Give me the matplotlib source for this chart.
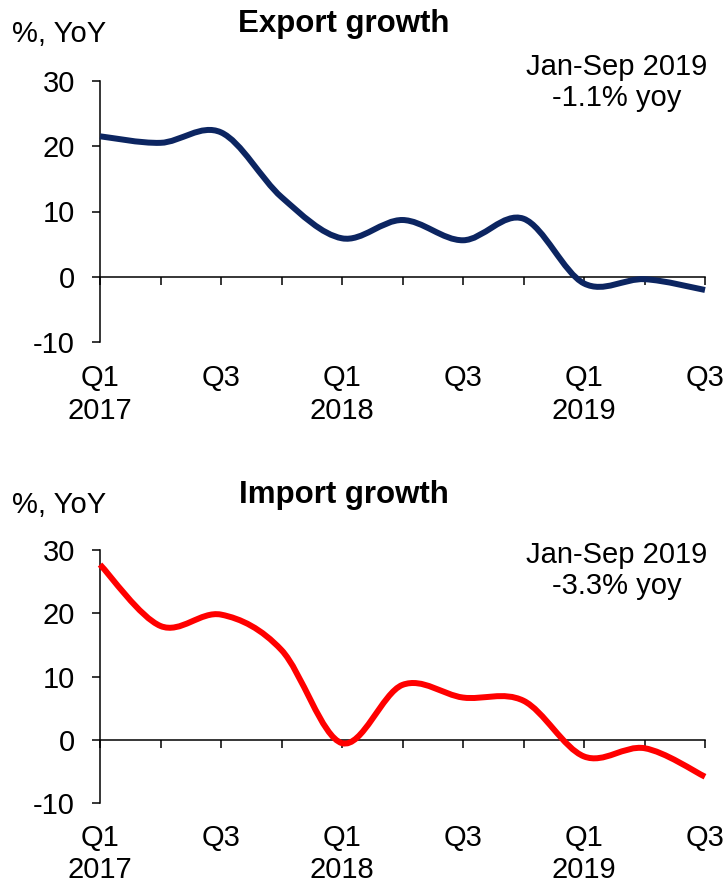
import numpy as np
import matplotlib.pyplot as plt
from matplotlib.path import Path
from matplotlib.patches import PathPatch

plt.rcParams['font.family'] = ['Liberation Sans', 'DejaVu Sans']
plt.rcParams['axes.unicode_minus'] = False

# quarterly y/y growth, Q1 2017 .. Q3 2019
quarter_labels = ["Q1\n2017", "", "Q3", "", "Q1\n2018", "", "Q3", "", "Q1\n2019", "", "Q3"]
export_growth = [21.5, 20.5, 22.1, 12.2, 5.9, 8.7, 5.6, 8.9, -1.0, -0.35, -2.0]
import_growth = [27.7, 18.0, 19.8, 14.2, -0.5, 8.7, 6.7, 6.2, -2.6, -1.3, -5.8]
y_ticks = [-10, 0, 10, 20, 30]

export_note = "Jan-Sep 2019\n-1.1% yoy"
import_note = "Jan-Sep 2019\n-3.3% yoy"

W, H = 728, 886


def smooth_path(x, y):
    # smoothed line like the spreadsheet one: cubic Bezier through each point
    pts = np.column_stack([x, y]).astype(float)
    padded = np.vstack([pts[0], pts, pts[-1]])
    verts = [pts[0]]
    codes = [Path.MOVETO]
    for i in range(len(pts) - 1):
        p0, p1, p2, p3 = padded[i], padded[i + 1], padded[i + 2], padded[i + 3]
        verts += [p1 + (p2 - p0) / 6, p2 - (p3 - p1) / 6, p2]
        codes += [Path.CURVE4] * 3
    return Path(verts, codes)


def panel(rect, values, color, title, title_base, unit_base, note, note_base,
          xpad):
    ax = fig.add_axes(rect)
    x = np.arange(len(values))
    ax.add_patch(PathPatch(smooth_path(x, values), fill=False, edgecolor=color,
                           lw=4.3, capstyle='butt', joinstyle='round',
                           clip_on=False, zorder=3))
    ax.set_xlim(0, len(values) - 1)
    ax.set_ylim(-10, 30)
    ax.set_yticks(y_ticks)
    ax.set_xticks(x)
    ax.set_xticklabels(quarter_labels, linespacing=1.12)
    for s in ['top', 'right']:
        ax.spines[s].set_visible(False)
    ax.spines['bottom'].set_position(('data', 0))
    for s in ['left', 'bottom']:
        ax.spines[s].set_linewidth(1.1)
    ax.tick_params(axis='y', direction='out', length=6, width=1.1,
                   labelsize=21, pad=12)
    ax.tick_params(axis='x', direction='out', length=6, width=1.1,
                   labelsize=21, pad=xpad)
    fig.text(344 / W, 1 - title_base / H, title, ha='center', va='baseline',
             fontsize=22.5, fontweight='bold')
    fig.text(12 / W, 1 - unit_base / H, "%, YoY", ha='left', va='baseline',
             fontsize=21)
    fig.text(617 / W, 1 - note_base / H, note, ha='center', va='baseline',
             fontsize=21, linespacing=1.15)
    return ax


fig = plt.figure(figsize=(W / 100, H / 100), dpi=100)

panel([100 / W, 1 - 342.3 / H, 605 / W, 261.6 / H], export_growth, '#0c2561',
      "Export growth", 32, 42, export_note, 106, 57)
panel([100 / W, 1 - 803.3 / H, 605 / W, 253.3 / H], import_growth, '#ff0000',
      "Import growth", 503, 513, import_note, 594, 54.5)

fig.savefig('out.png', dpi=100, facecolor='white')
